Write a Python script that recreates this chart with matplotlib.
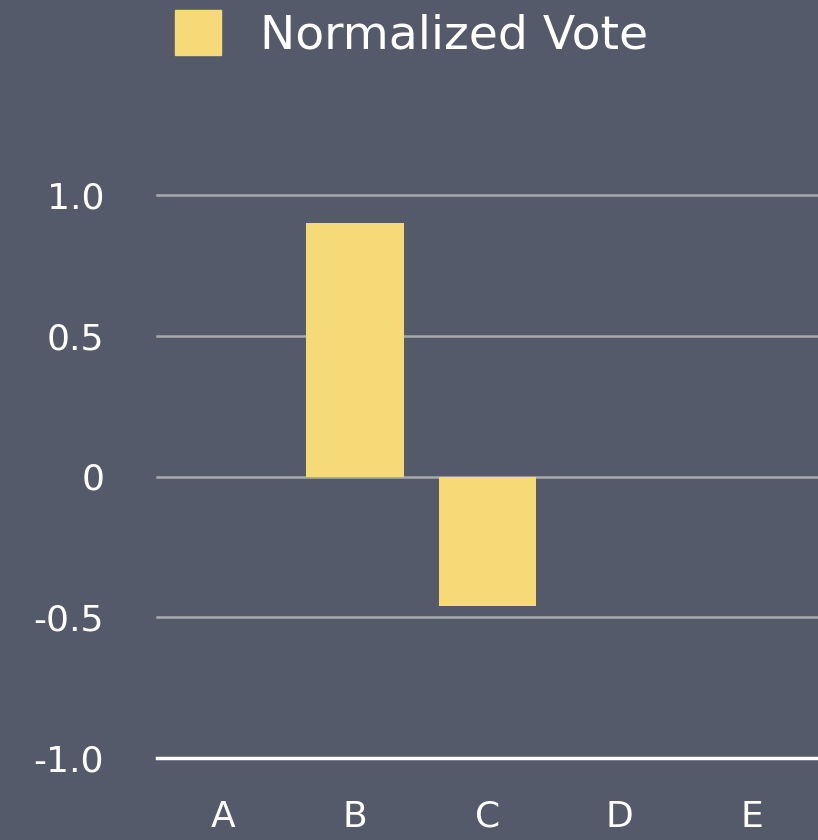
import matplotlib.pyplot as plt
from matplotlib.patches import Rectangle

categories = ["A", "B", "C", "D", "E"]
votes = [0.0, 0.9, -0.46, 0.0, 0.0]
yticks = [-1.0, -0.5, 0.0, 0.5, 1.0]
ytick_labels = ["-1.0", "-0.5", "0", "0.5", "1.0"]
legend_label = "Normalized Vote"

bg = "#545a6a"
bar_color = "#f5da77"
W, H = 818, 840

fig = plt.figure(figsize=(W / 100, H / 100), dpi=100, facecolor=bg)
ax = fig.add_axes([157 / W, (H - 758) / H, 1 - 157 / W, (758 - 195) / H])
ax.set_facecolor(bg)

x = list(range(len(categories)))
ax.bar(x, votes, width=0.74, color=bar_color, zorder=3)

# grid lines; bottom one is the axis line, drawn white
for v in yticks:
    if v == -1.0:
        ax.axhline(v, color="white", linewidth=2.5, zorder=2, clip_on=False)
    else:
        ax.axhline(v, color="#a7a9ad", linewidth=1.8, zorder=2, clip_on=False)

ax.set_xlim(-0.5, 4.5)
ax.set_ylim(-1.0, 1.0)
ax.set_yticks(yticks)
ax.set_yticklabels(ytick_labels)
ax.set_xticks(x)
ax.set_xticklabels(categories)
ax.tick_params(axis="y", length=0, pad=38, labelsize=26, labelcolor="white")
ax.tick_params(axis="x", length=0, pad=30, labelsize=26, labelcolor="white")
for s in ax.spines.values():
    s.set_visible(False)

# legend drawn by hand: square swatch + label
fig.add_artist(Rectangle((175 / W, 1 - 55 / H), 46 / W, 45 / H,
                         transform=fig.transFigure, color=bar_color))
fig.text(260 / W, 1 - 36 / H, legend_label, color="white", fontsize=34,
         ha="left", va="center")

fig.savefig("out.png", dpi=100, facecolor=bg)
